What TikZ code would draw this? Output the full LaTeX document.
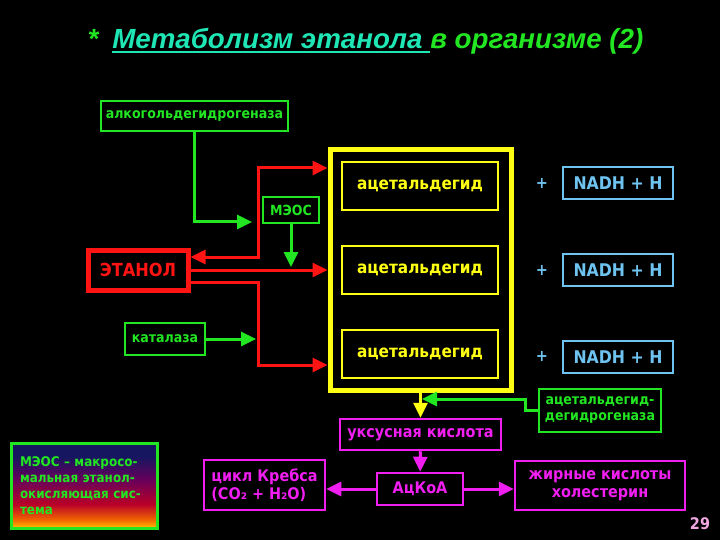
\documentclass[tikz,border=0pt]{standalone}
\usepackage{fontspec}
\setmainfont{DejaVu Sans Condensed}
\newfontfamily\titlefont{Liberation Sans}
\usepackage{tikz}
\usetikzlibrary{arrows.meta,positioning}
\definecolor{enzgreen}{HTML}{22E622}
\definecolor{ethred}{HTML}{FF1414}
\definecolor{aldyellow}{HTML}{FFFF14}
\definecolor{nadblue}{HTML}{6EC3F0}
\definecolor{acidpink}{HTML}{F01EF0}
\definecolor{titleteal}{HTML}{1EE6B4}
\definecolor{pagepink}{HTML}{F0A8E0}
\definecolor{fadenavy}{RGB}{22,22,96}
\definecolor{fadepurple}{RGB}{100,0,92}
\definecolor{fadered}{RGB}{185,0,40}
\definecolor{fadeorange}{RGB}{240,100,0}
\definecolor{fadeyellow}{RGB}{255,195,0}
\pgfdeclareverticalshading{meosfade}{100bp}{color(0bp)=(fadeyellow); color(25bp)=(fadeyellow); color(30bp)=(fadeorange); color(39bp)=(fadered); color(54bp)=(fadepurple); color(67bp)=(fadenavy); color(100bp)=(fadenavy)}
\newcommand{\titleline}[1]{\setbox0\hbox{#1}\rlap{\rule[-4.5pt]{\wd0}{2.4pt}}\box0}

\begin{document}
\begin{tikzpicture}[
  x=1pt, y=-1pt,
  box/.style={fill=black, line width=2.5pt, align=center, inner sep=0pt,
              font=\bfseries\fontsize{14}{16}\selectfont},
  enzyme/.style={box, draw=enzgreen, text=enzgreen},
  substrate/.style={box, draw=ethred, text=ethred, line width=5pt,
              font=\bfseries\fontsize{18}{20}\selectfont},
  aldbox/.style={box, draw=aldyellow, text=aldyellow, line width=2pt,
              minimum width=156pt, minimum height=48pt,
              font=\bfseries\fontsize{17}{20}\selectfont},
  cofactor/.style={box, draw=nadblue, text=nadblue,
              minimum width=110pt, minimum height=32pt,
              font=\bfseries\fontsize{17.5}{20}\selectfont},
  plussign/.style={text=nadblue, font=\bfseries\fontsize{16}{18}\selectfont},
  product/.style={box, draw=acidpink, text=acidpink,
              font=\bfseries\fontsize{16}{18}\selectfont},
  arrow/.style={-{Triangle[length=15pt, width=14pt]}, line width=3pt},
  redarrow/.style={arrow, draw=ethred},
  greenarrow/.style={arrow, draw=enzgreen},
  pinkarrow/.style={arrow, draw=acidpink}
]
\fill[black] (0,0) rectangle (720,540);

% title
\node[anchor=base west, font=\titlefont\bfseries\itshape\fontsize{27.7}{30}\selectfont] (title) at (84,49)
  {\textcolor{enzgreen}{*}\hspace{14pt}\textcolor{titleteal}{\titleline{Метаболизм этанола\ }}\textcolor{enzgreen}{в организме (2)}};

% enzymes
\node[enzyme, minimum width=187pt, minimum height=30pt] (adh) at (194.5,116) {алкогольдегидрогеназа};
\node[enzyme, minimum width=56pt, minimum height=26pt] (meos) at (291,210) {МЭОС};
\node[enzyme, minimum width=80pt, minimum height=32pt] (catalase) at (165,339) {каталаза};
\node[enzyme, minimum width=122pt, minimum height=43pt] (aldh) at (600,410.5) {ацетальдегид-\\дегидрогеназа};

% ethanol and acetaldehyde pool
\node[substrate, minimum width=100pt, minimum height=40pt] (ethanol) at (138,270) {ЭТАНОЛ};
\node[draw=aldyellow, line width=5pt, minimum width=181pt, minimum height=240pt] (pool) at (420.5,270) {};
\node[aldbox] (ald1) at (420,186) {ацетальдегид};
\node[aldbox, below=34pt of ald1] (ald2) {ацетальдегид};
\node[aldbox, below=34pt of ald2] (ald3) {ацетальдегид};

\node[plussign] (plus1) at (542,183) {+};
\node[plussign] (plus2) at (542,270) {+};
\node[plussign] (plus3) at (542,356) {+};
\node[cofactor] (nad1) at (618,183) {NADH + H};
\node[cofactor] (nad2) at (618,270) {NADH + H};
\node[cofactor] (nad3) at (618,357) {NADH + H};

% products
\node[product, minimum width=161pt, minimum height=31pt] (acetic) at (420.5,434.5) {уксусная кислота};
\node[product, minimum width=86pt, minimum height=32pt] (acoa) at (420,489) {АцКоА};
\node[product, minimum width=121pt, minimum height=50pt, align=left] (krebs) at (264.5,485) {цикл Кребса\\(CO₂ + H₂O)};
\node[product, minimum width=170pt, minimum height=49pt] (fatty) at (600,485.5) {жирные кислоты\\холестерин};

% legend
\node[enzyme, line width=3pt, shading=meosfade, minimum width=146pt, minimum height=85pt,
      text width=128pt, align=left, font=\bfseries\fontsize{13.3}{16}\selectfont] (legend) at (84,485.5)
  {\makebox[128pt][s]{МЭОС – макросо-}\\\makebox[128pt][s]{мальная этанол-}\\\makebox[128pt][s]{окисляющая сис-}\\тема};

\node[text=pagepink, font=\bfseries\fontsize{16}{18}\selectfont] (page) at (700,524) {29};

% junctions
\coordinate (up) at (258,168);
\coordinate (down) at (258,365);
\coordinate (adhend) at (252,222);
\coordinate (meosend) at (291,267);
\coordinate (catend) at (256,339);
\coordinate (aldhend) at (422,399);

% ethanol oxidation
\draw[redarrow, {Triangle[length=15pt, width=14pt]}-{Triangle[length=15pt, width=14pt]}]
  ([yshift=13pt]ethanol.east) -| (up) -- (up -| pool.west);
\draw[redarrow] (ethanol) -- (ethanol -| pool.west);
\draw[redarrow] ([yshift=-12pt]ethanol.east) -| (down) -- (down -| pool.west);

\draw[greenarrow] (adh) |- (adhend);
\draw[greenarrow] (meos) -- (meosend);
\draw[greenarrow] (catalase) -- (catend);

% acetaldehyde to acetyl-CoA
\draw[arrow, draw=aldyellow] (pool) -- (acetic);
\draw[greenarrow] (aldh.west) -- ++(-12,0) |- (aldhend);
\draw[pinkarrow] (acetic) -- (acoa);
\draw[pinkarrow] (acoa.west) -- (acoa.west -| krebs.east);
\draw[pinkarrow] (acoa.east) -- (acoa.east -| fatty.west);
\end{tikzpicture}
\end{document}
